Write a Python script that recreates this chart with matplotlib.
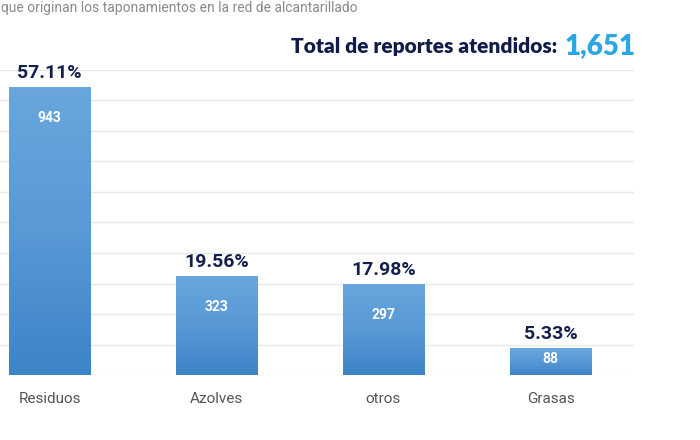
import numpy as np
import matplotlib
matplotlib.use("Agg")
import matplotlib.pyplot as plt
from matplotlib.colors import LinearSegmentedColormap

categories = ["Residuos", "Azolves", "otros", "Grasas"]
values = [943, 323, 297, 88]
percents = ["57.11%", "19.56%", "17.98%", "5.33%"]
total_label = "Total de reportes atendidos: "
total_value = "1,651"
subtitle = "que originan los taponamientos en la red de alcantarillado"

fig = plt.figure(figsize=(7, 4.4), dpi=100)
fig.patch.set_facecolor("white")
ax = fig.add_axes([-34 / 700, 65 / 440, 668 / 700, 305 / 440])
ax.set_facecolor("white")

x = np.arange(len(categories))
bars = ax.bar(x, values, width=0.49, color="#5597d6", zorder=2)

cmap = LinearSegmentedColormap.from_list("g", ["#3d84c6", "#5899d6", "#68a6dd"])
grad = np.linspace(0, 1, 256).reshape(-1, 1)
for b in bars:
    x0, y0 = b.get_x(), b.get_y()
    w, h = b.get_width(), b.get_height()
    im = ax.imshow(grad, extent=[x0, x0 + w, y0, y0 + h], origin="lower",
                   cmap=cmap, aspect="auto", zorder=3)
    im.set_clip_path(b)

ax.set_xlim(-0.5, len(categories) - 0.5)
ax.set_ylim(0, 1000)
ax.set_yticks(np.arange(0, 1001, 100))
ax.yaxis.grid(True, color="#e8e8e8", linewidth=1, zorder=0)
ax.set_axisbelow(True)
for s in ax.spines.values():
    s.set_visible(False)
ax.tick_params(axis="y", left=False, labelleft=False)
ax.tick_params(axis="x", bottom=False, pad=9)
ax.set_xticks(x)
ax.set_xticklabels(categories, fontsize=11, color="#555555", family="Roboto")

for xi, v, p in zip(x, values, percents):
    ax.annotate(p, (xi, v), xytext=(0, 4), textcoords="offset points",
                ha="center", va="bottom", fontsize=14, fontweight="bold",
                color="#14214d", family="Roboto", zorder=5)
    ax.text(xi, v - min(100, v * 0.4), str(v), ha="center", va="center",
            fontsize=10, fontweight="bold", color="white", family="Roboto", zorder=5)

t1 = fig.text(562 / 700, 1 - 46 / 440, total_label, ha="right", va="center",
              fontsize=15, fontweight="heavy", color="#101c4a", family="Lato")
ax.annotate(total_value, xy=(1, 0.5), xycoords=t1, xytext=(2, 0),
            textcoords="offset points", ha="left", va="center",
            fontsize=20, fontweight="heavy", color="#2aa7e1", family="Lato",
            annotation_clip=False)

fig.text(0.002, 0.998, subtitle, ha="left", va="top", fontsize=10,
         color="#8a8a8a", family="Roboto")

fig.savefig("out.png", dpi=100, facecolor="white")
